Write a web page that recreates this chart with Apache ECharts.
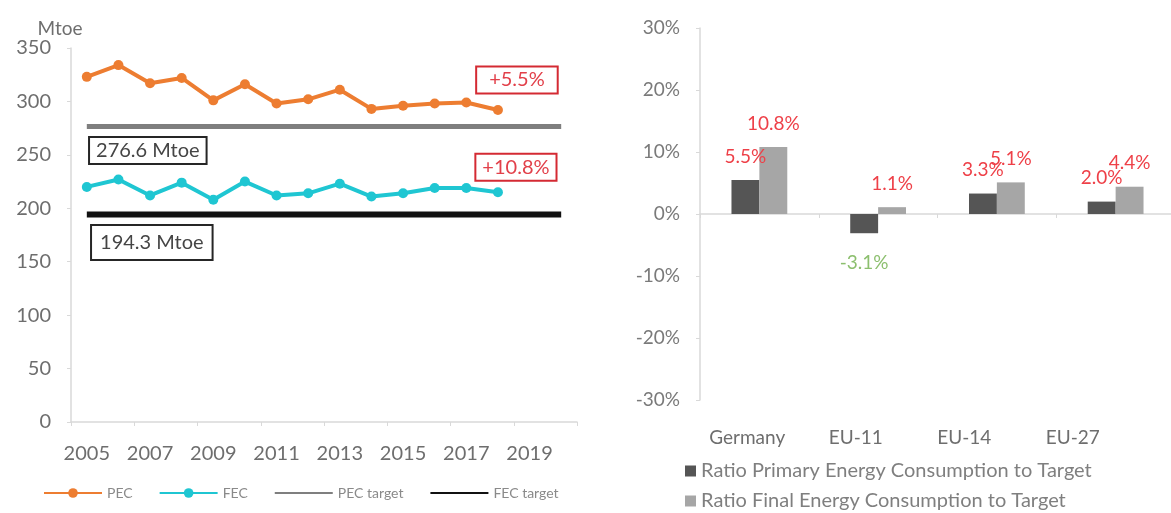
<!DOCTYPE html>
<html>
<head>
<meta charset="utf-8">
<script src="https://cdn.jsdelivr.net/npm/echarts@6/dist/echarts.min.js"></script>
<style>html,body{margin:0;padding:0;background:#fff;}#c{width:1171px;height:513px;}</style>
</head>
<body>
<div id="c"></div>
<script>
// ---- Left chart data (Mtoe) ----
const years = ['2005','2006','2007','2008','2009','2010','2011','2012','2013','2014','2015','2016','2017','2018','2019','2020'];
const pec = [323, 334, 317, 322, 301, 316, 298, 302, 311, 293, 296, 298, 299, 292, null, null];
const fec = [220, 227, 212, 224, 208, 225, 212, 214, 223, 211, 214, 219, 219, 215, null, null];
const pecTarget = [276.6, 276.6, 276.6, 276.6, 276.6, 276.6, 276.6, 276.6, 276.6, 276.6, 276.6, 276.6, 276.6, 276.6, 276.6, 276.6];
const fecTarget = [194.3, 194.3, 194.3, 194.3, 194.3, 194.3, 194.3, 194.3, 194.3, 194.3, 194.3, 194.3, 194.3, 194.3, 194.3, 194.3];
const pecNote = '+5.5%';
const fecNote = '+10.8%';
const pecTargetNote = '276.6 Mtoe';
const fecTargetNote = '194.3 Mtoe';
const leftYTicks = [0, 50, 100, 150, 200, 250, 300, 350];

// ---- Right chart data (%) ----
const regions = ['Germany', 'EU-11', 'EU-14', 'EU-27'];
const ratioPrimary = [5.5, -3.1, 3.3, 2.0];
const ratioFinal = [10.8, 1.1, 5.1, 4.4];
const rightYTicks = [-30, -20, -10, 0, 10, 20, 30];

const FONT = 'Lato, "Open Sans", sans-serif';
const AX = '#d9d9d9';
const LBL = '#6e6e6e';

function noteLabel(text, color, offset, pad) {
  return {
    show: true, position: 'inside', offset: offset, formatter: text,
    color: color === 'red' ? '#e2404a' : '#454545',
    fontFamily: FONT, fontSize: 20,
    backgroundColor: '#fff',
    borderColor: color === 'red' ? '#d42a33' : '#262626', borderWidth: 2,
    padding: pad
  };
}

const lastIdx = 13;
const pecData = pec.map((v, i) => i === lastIdx ? {value: v, label: noteLabel(pecNote, 'red', [19, -30], [3, 12, 2, 12])} : v);
const fecData = fec.map((v, i) => i === lastIdx ? {value: v, label: noteLabel(fecNote, 'red', [18, -25], [3, 6, 2, 6])} : v);
const pecTData = pecTarget.map((v, i) => i === 0 ? {value: v, label: noteLabel(pecTargetNote, 'black', [61, 24], [3, 6, 2, 6])} : v);
const fecTData = fecTarget.map((v, i) => i === 0 ? {value: v, label: noteLabel(fecTargetNote, 'black', [65, 28], [7, 8, 6, 8])} : v);

const primData = ratioPrimary.map(v => v < 0
  ? {value: v, label: {position: 'bottom', distance: 20, color: '#8cbf6e'}}
  : v);

const legendText = {color: '#8a8a8a', fontSize: 14, fontFamily: FONT};
const rightLegendText = {color: '#7f7f7f', fontSize: 20, fontFamily: FONT};

const chart = echarts.init(document.getElementById('c'), null, {renderer: 'canvas'});
chart.setOption({
  animation: false,
  backgroundColor: '#fff',
  textStyle: {fontFamily: FONT},
  grid: [
    {left: 71, top: 48, width: 506, height: 374, outerBoundsMode: 'none', containLabel: false},
    {left: 700, right: -4, top: 28, bottom: 113, outerBoundsMode: 'none', containLabel: false},
    // label band for the category names (as placed in the original, slightly narrower than the bars' band)
    {left: 693, width: 434, top: 28, bottom: 113, outerBoundsMode: 'none', containLabel: false}
  ],
  legend: [
    {
      data: ['PEC', 'FEC',
        {name: 'PEC target', itemStyle: {opacity: 0}},
        {name: 'FEC target', itemStyle: {opacity: 0}}],
      left: 38, top: 481, itemWidth: 58, itemHeight: 12, itemGap: 26,
      textStyle: legendText
    },
    {
      data: ['Ratio Primary Energy Consumption to Target'],
      left: 680, top: 456, itemWidth: 11, itemHeight: 11, icon: 'rect',
      textStyle: rightLegendText
    },
    {
      data: ['Ratio Final Energy Consumption to Target'],
      left: 680, top: 486, itemWidth: 11, itemHeight: 11, icon: 'rect',
      textStyle: rightLegendText
    }
  ],
  xAxis: [
    {
      type: 'category', gridIndex: 0, data: years, boundaryGap: true,
      axisLine: {lineStyle: {color: AX, width: 1.5}},
      axisTick: {show: true, interval: 1, length: 4, lineStyle: {color: AX}},
      axisLabel: {interval: 1, color: LBL, fontSize: 20, margin: 22, fontFamily: FONT}
    },
    {
      type: 'category', gridIndex: 1, data: regions, position: 'bottom',
      axisLine: {onZero: true, lineStyle: {color: AX, width: 1.5}},
      axisTick: {show: true, length: 4, lineStyle: {color: AX}},
      axisLabel: {show: false}
    },
    {
      type: 'category', gridIndex: 2, data: regions, position: 'bottom',
      axisLine: {show: false, onZero: false},
      axisTick: {show: false},
      axisLabel: {color: LBL, fontSize: 19, margin: 28, fontFamily: FONT}
    }
  ],
  yAxis: [
    {
      type: 'value', gridIndex: 0, min: leftYTicks[0], max: leftYTicks[leftYTicks.length - 1], interval: 50,
      name: 'Mtoe', nameLocation: 'end', nameGap: 10,
      nameTextStyle: {color: LBL, fontSize: 19, fontFamily: FONT, padding: [0, 22, 0, 0]},
      axisLine: {show: true, lineStyle: {color: AX, width: 1.5}},
      axisTick: {show: true, length: 4, lineStyle: {color: AX}},
      splitLine: {show: false},
      axisLabel: {color: LBL, fontSize: 20, margin: 20, fontFamily: FONT}
    },
    {
      type: 'value', gridIndex: 1, min: rightYTicks[0], max: rightYTicks[rightYTicks.length - 1], interval: 10,
      axisLine: {show: true, lineStyle: {color: AX, width: 1.5}},
      axisTick: {show: true, length: 4, lineStyle: {color: AX}},
      splitLine: {show: false},
      axisLabel: {color: '#7a7a7a', fontSize: 19, margin: 20, formatter: '{value}%', fontFamily: FONT}
    },
    {
      type: 'value', gridIndex: 2, show: false, min: rightYTicks[0], max: rightYTicks[rightYTicks.length - 1]
    }
  ],
  series: [
    {
      name: 'PEC', type: 'line', xAxisIndex: 0, yAxisIndex: 0, data: pecData,
      symbol: 'circle', symbolSize: 10, color: '#ed7d31',
      lineStyle: {width: 4, color: '#ed7d31'}, itemStyle: {color: '#ed7d31'}, z: 5
    },
    {
      name: 'FEC', type: 'line', xAxisIndex: 0, yAxisIndex: 0, data: fecData,
      symbol: 'circle', symbolSize: 10, color: '#1fc6d2',
      lineStyle: {width: 4, color: '#1fc6d2'}, itemStyle: {color: '#1fc6d2'}, z: 5
    },
    {
      name: 'PEC target', type: 'line', xAxisIndex: 0, yAxisIndex: 0, data: pecTData,
      symbol: 'circle', symbolSize: 0, showSymbol: true, color: '#7f7f7f',
      lineStyle: {width: 5, color: '#7f7f7f'}, itemStyle: {color: '#7f7f7f'}, z: 3
    },
    {
      name: 'FEC target', type: 'line', xAxisIndex: 0, yAxisIndex: 0, data: fecTData,
      symbol: 'circle', symbolSize: 0, showSymbol: true, color: '#111',
      lineStyle: {width: 6, color: '#111'}, itemStyle: {color: '#111'}, z: 3
    },
    {
      name: 'Ratio Primary Energy Consumption to Target', type: 'bar', xAxisIndex: 1, yAxisIndex: 1,
      data: primData, color: '#555555', barGap: '0%', barCategoryGap: '53%',
      label: {show: true, position: 'top', distance: 14, color: '#ee4048', fontSize: 19, fontFamily: FONT,
        formatter: p => p.value.toFixed(1) + '%'}
    },
    {
      name: 'Ratio Final Energy Consumption to Target', type: 'bar', xAxisIndex: 1, yAxisIndex: 1,
      data: ratioFinal, color: '#a6a6a6', barGap: '0%', barCategoryGap: '53%',
      label: {show: true, position: 'top', distance: 14, color: '#ee4048', fontSize: 19, fontFamily: FONT,
        formatter: p => p.value.toFixed(1) + '%'}
    }
  ]
});
</script>
</body>
</html>
